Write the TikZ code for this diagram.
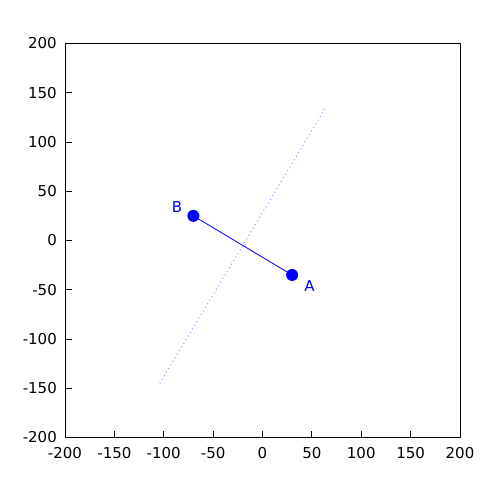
\documentclass[tikz,border=0pt]{standalone}
\usepackage{fontspec}
\setmainfont{DejaVu Sans}
\begin{document}
\begin{tikzpicture}[x=1pt,y=1pt,
  ticklab/.style={font=\fontsize{15}{17}\selectfont, inner sep=0pt},
  ptlab/.style={font=\fontsize{15}{17}\selectfont, text=blue, inner sep=0pt},
  pt/.style={circle, fill=blue, minimum size=12pt, inner sep=0pt},
  seg/.style={blue, line width=0.8pt},
  bisect/.style={blue!45, line width=0.9pt, dash pattern=on 1pt off 3.2pt}]
\useasboundingbox (0,0) rectangle (500,500);
\begin{scope}[shift={(262.5,259.5)}, x=0.9875pt, y=0.985pt]
  % tick labels
  \foreach \v in {-200,-150,...,200} {
    \node[ticklab, anchor=north] at ([yshift=-10pt]\v,-200) {\v};
    \node[ticklab, anchor=east] at ([xshift=-8pt]-200,\v) {\v};
  }
  % inward ticks
  \foreach \v in {-150,-100,...,150} {
    \draw[line width=0.8pt] (\v,-200) -- ++(0,6.5pt);
    \draw[line width=0.8pt] (-200,\v) -- ++(6.5pt,0);
  }
  \draw[line width=1pt] (-200,-200) rectangle (200,200);
  \coordinate (p1) at (-104,-145);
  \coordinate (p2) at (64,135);
  \draw[bisect] (p1) -- (p2);
  \node[pt] (A) at (30,-35) {};
  \node[pt] (B) at (-70,25) {};
  \draw[seg] (A.center) -- (B.center);
  \node[ptlab] at (47.5,-46) {A};
  \node[ptlab] at (-86.5,34) {B};
\end{scope}
\end{tikzpicture}
\end{document}
